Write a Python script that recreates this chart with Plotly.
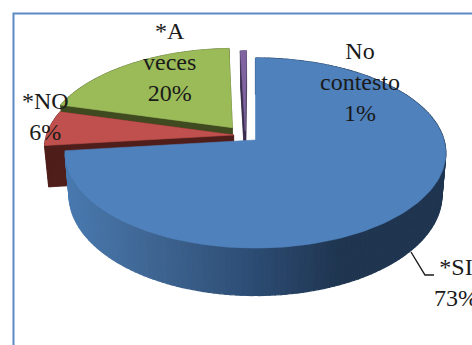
import math
import plotly.graph_objects as go

# --- data ---
categories = ["*SI", "*NO", "*A veces", "No contesto"]
shares = [73.2, 6.0, 20.2, 0.6]
label_lines = ["*SI<br>73%", "*NO<br>6%", "*A<br>veces<br>20%", "No<br>contesto<br>1%"]

# --- styles / layout ---
top_colors = ["#4F81BD", "#C0504D", "#9BBB59", "#8064A2"]
side_colors = ["#1F3550", "#4F1E1B", "#3F4A20", "#3A2E4F"]
offsets = [(0, 0), (-0.117, 0.054), (-0.125, 0.135), (-0.055, 0.10)]
label_pos = [(456, 282), (45, 116), (169, 62), (360, 82)]
draw_order = [2, 1, 3, 0]

CX, CY, R = 255.5, 140, 188.5
A, K = -74.1, 0.1368
DEPTH, SHRINK = 41, 0.98
W, H = 472, 345


def project(u, v, base=False):
    w = 1 + K * v
    x, y = CX + R * u / w, (A * v + CY) / w
    if base:
        x = CX + (x - CX) * SHRINK
        y = y + DEPTH / w
    return x, y


def outline(start, end, off, base=False):
    n = max(2, int(abs(end - start) / 1.5))
    pts = [project(off[0], off[1], base)]
    for i in range(n + 1):
        t = math.radians(start + (end - start) * i / n)
        pts.append(project(off[0] + math.sin(t), off[1] + math.cos(t), base))
    return pts


def poly(pts, color, lw=0.6):
    return go.Scatter(
        x=[p[0] for p in pts] + [pts[0][0]],
        y=[p[1] for p in pts] + [pts[0][1]],
        mode="lines", fill="toself", fillcolor=color,
        line=dict(color=color, width=lw),
        hoverinfo="skip", showlegend=False,
    )


def lerp_hex(stops, x):
    for (x0, c0), (x1, c1) in zip(stops, stops[1:]):
        if x <= x1:
            f = max(0, (x - x0) / (x1 - x0))
            a = [int(c0[i:i + 2], 16) for i in (1, 3, 5)]
            b = [int(c1[i:i + 2], 16) for i in (1, 3, 5)]
            return "#%02X%02X%02X" % tuple(round(p + (q - p) * f) for p, q in zip(a, b))
    return stops[-1][1]


blue_side_stops = [(60, "#4A7BB2"), (150, "#3F6693"), (250, "#2D4D74"), (340, "#1F3550"), (460, "#1F3550")]

total = sum(shares)
bounds = [0]
for s in shares:
    bounds.append(bounds[-1] + s / total * 360)

fig = go.Figure()
for i in draw_order:
    start, end = bounds[i], bounds[i + 1]
    off = offsets[i]
    top = outline(start, end, off)
    bot = outline(start, end, off, base=True)
    if i == 0:
        # rim of the main slice, shaded along its width
        for j in range(1, len(top) - 1):
            quad = [top[j], top[j + 1], bot[j + 1], bot[j]]
            color = lerp_hex(blue_side_stops, sum(p[0] for p in quad) / len(quad))
            fig.add_trace(poly(quad, color, 1.2))
    else:
        fig.add_trace(poly(bot, side_colors[i]))
        for j in range(len(top)):
            k = (j + 1) % len(top)
            fig.add_trace(poly([top[j], top[k], bot[k], bot[j]], side_colors[i]))
    fig.add_trace(poly(top, top_colors[i]))

# leader line for the main slice
fig.add_trace(go.Scatter(x=[411, 425, 434], y=[252, 275, 275], mode="lines",
                         line=dict(color="#1A1A1A", width=1.4),
                         hoverinfo="skip", showlegend=False))

for text, (x, y) in zip(label_lines, label_pos):
    fig.add_annotation(x=x, y=y, text=text, showarrow=False, xanchor="center", yanchor="middle",
                       align="center", font=dict(family="Liberation Serif", size=24, color="#1A1A1A"))

fig.update_layout(
    width=W, height=H, margin=dict(l=0, r=0, t=0, b=0),
    paper_bgcolor="white", plot_bgcolor="white", showlegend=False,
    xaxis=dict(range=[0, W], visible=False, fixedrange=True),
    yaxis=dict(range=[H, 0], visible=False, fixedrange=True),
    shapes=[dict(type="rect", xref="x", yref="y", x0=13.5, y0=13.5, x1=W + 10, y1=H + 10,
                 line=dict(color="#5B8AC4", width=2), layer="above")],
)
fig.write_html("out.html", config=dict(displayModeBar=False),
               post_script="document.body.style.margin='0';document.documentElement.style.overflow='hidden';")
